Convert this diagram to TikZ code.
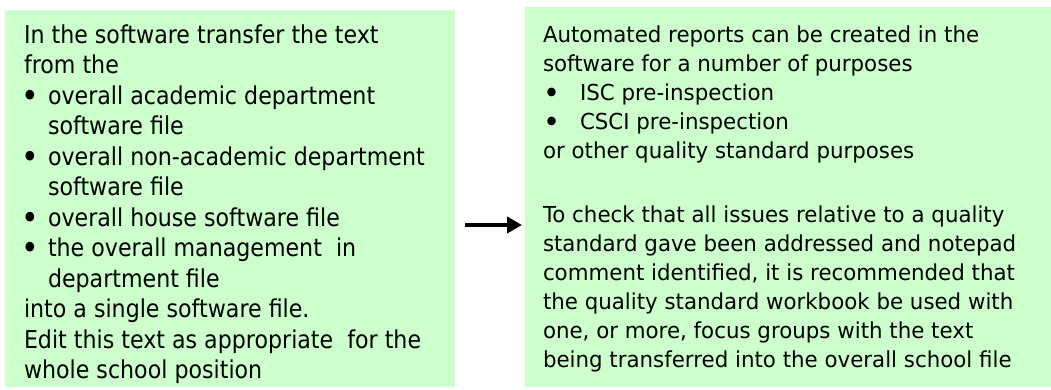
\documentclass[tikz,border=0pt]{standalone}
\usepackage{fontspec}
\setmainfont{DejaVu Sans}
\newfontfamily\leftfont{DejaVu Sans}[FakeStretch=0.9]
\newfontfamily\rightfont{DejaVu Sans}[FakeStretch=0.97]
\usetikzlibrary{arrows.meta}
\definecolor{boxgreen}{HTML}{CCFFCC}
\newcommand{\bigbul}{\raisebox{-0.14em}{\scalebox{1.35}{\textbullet}}}
\begin{document}
\begin{tikzpicture}[x=1pt,y=-1pt,
  box/.style={fill=boxgreen, draw=none, inner sep=0pt, outer sep=0pt, anchor=north west},
  txt/.style={anchor=base west, inner sep=0pt, outer sep=0pt, text=black},
  conn/.style={line width=4.5pt, -{Triangle[length=15pt,width=16pt]}}]
\useasboundingbox[fill=white] (0,0) rectangle (1051,389);
\node[box, minimum width=450pt, minimum height=377pt] (leftbox) at (5,10) {};
\node[box, minimum width=526pt, minimum height=380pt] (rightbox) at (525,7) {};
\node[txt] (lefttext) at (24,43) {\begin{minipage}[t]{430pt}\leftfont\fontsize{24.6pt}{30.5pt}\selectfont
In the software transfer the text\\
from the\\
\makebox[24pt][l]{\hspace*{-3pt}\bigbul}overall academic department\\
\hspace*{24pt}software file\\
\makebox[24pt][l]{\hspace*{-3pt}\bigbul}overall non-academic department\\
\hspace*{24pt}software file\\
\makebox[24pt][l]{\hspace*{-3pt}\bigbul}overall house software file\\
\makebox[24pt][l]{\hspace*{-3pt}\bigbul}the overall management~ in\\
\hspace*{24pt}department file\\
into a single software file.\\
Edit this text as appropriate~ for the\\
whole school position
\end{minipage}};
\node[txt] (righttop) at (543,42) {\begin{minipage}[t]{505pt}\rightfont\fontsize{22pt}{29pt}\selectfont
Automated reports can be created in the\\
software for a number of purposes\\
\makebox[37pt][l]{\bigbul}ISC pre-inspection\\
\makebox[37pt][l]{\bigbul}CSCI pre-inspection\\
or other quality standard purposes
\end{minipage}};
\node[txt] (rightbottom) at (543,222) {\begin{minipage}[t]{505pt}\rightfont\fontsize{22pt}{29pt}\selectfont
To check that all issues relative to a quality\\
standard gave been addressed and notepad\\
comment identified, it is recommended that\\
the quality standard workbook be used with\\
one, or more, focus groups with the text\\
being transferred into the overall school file
\end{minipage}};
\coordinate (arrowstart) at (465,225);
\coordinate (arrowend) at (522,225);
\draw[conn] (arrowstart) -- (arrowend);
\end{tikzpicture}
\end{document}
